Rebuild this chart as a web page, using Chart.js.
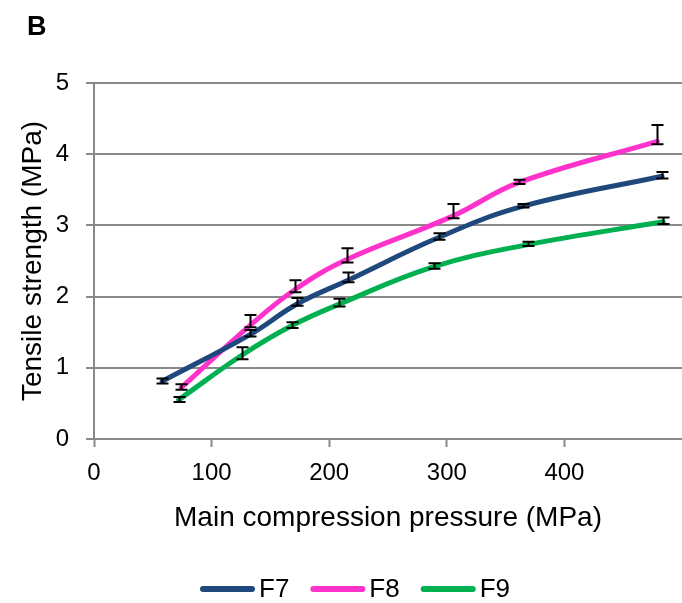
<!DOCTYPE html>
<html>
<head>
<meta charset="utf-8">
<script src="https://cdn.jsdelivr.net/npm/chart.js@4.4.1/dist/chart.umd.min.js"></script>
<style>
  html, body { margin: 0; padding: 0; background: #ffffff; }
  #wrap { width: 682px; height: 603px; }
</style>
</head>
<body>
<div id="wrap"><canvas id="chart" width="682" height="603"></canvas></div>
<script>
// Series names and colours
const seriesNames = ['F7', 'F8', 'F9'];
const seriesColors = ['#1F497D', '#FF33CC', '#00B050'];

// Main compression pressure (MPa) for each formulation
const f7Pressure = [58, 133, 173, 216, 293, 365, 483];
const f8Pressure = [74, 133, 171, 215, 305, 361, 479];
const f9Pressure = [72, 126, 168, 208, 289, 369, 484];

// Tensile strength (MPa), mean values
const f7Strength = [0.81, 1.47, 1.90, 2.23, 2.83, 3.27, 3.69];
const f8Strength = [0.72, 1.60, 2.10, 2.52, 3.13, 3.60, 4.18];
const f9Strength = [0.55, 1.18, 1.59, 1.89, 2.42, 2.73, 3.05];

// Error bar lengths above (plus) and below (minus) the mean
const f7ErrorPlus  = [0.04, 0.06, 0.08, 0.11, 0.06, 0.03, 0.06];
const f7ErrorMinus = [0.03, 0.03, 0.03, 0.03, 0.03, 0.02, 0.03];
const f8ErrorPlus  = [0.05, 0.14, 0.13, 0.16, 0.17, 0.04, 0.23];
const f8ErrorMinus = [0.03, 0.03, 0.04, 0.04, 0.03, 0.02, 0.04];
const f9ErrorPlus  = [0.04, 0.11, 0.05, 0.08, 0.05, 0.04, 0.06];
const f9ErrorMinus = [0.03, 0.06, 0.03, 0.03, 0.03, 0.02, 0.03];

// Axis ticks
const xTickValues = [0, 100, 200, 300, 400];
const yTickValues = [0, 1, 2, 3, 4, 5];

const pressures = [f7Pressure, f8Pressure, f9Pressure];
const strengths = [f7Strength, f8Strength, f9Strength];
const errorsPlus = [f7ErrorPlus, f8ErrorPlus, f9ErrorPlus];
const errorsMinus = [f7ErrorMinus, f8ErrorMinus, f9ErrorMinus];

const FONT = "'Liberation Sans', Arial, sans-serif";
const AXIS_GREY = '#898989';

const datasets = seriesNames.map((name, s) => ({
  label: name,
  data: pressures[s].map((x, i) => ({ x: x, y: strengths[s][i] })),
  errorPlus: errorsPlus[s],
  errorMinus: errorsMinus[s],
  borderColor: seriesColors[s],
  backgroundColor: seriesColors[s],
  borderWidth: 5,
  borderCapStyle: 'round',
  borderJoinStyle: 'round',
  tension: 0.4,
  pointRadius: 0,
  fill: false
}));

// Vertical error bars with caps, drawn over the lines
const errorBarPlugin = {
  id: 'errorBars',
  afterDatasetsDraw(chart) {
    const ctx = chart.ctx;
    const xs = chart.scales.x, ys = chart.scales.y;
    const cap = 6;
    ctx.save();
    ctx.strokeStyle = '#000000';
    ctx.lineWidth = 2;
    chart.data.datasets.forEach(ds => {
      ds.data.forEach((p, i) => {
        const px = Math.round(xs.getPixelForValue(p.x)) + 0.5;
        const top = ys.getPixelForValue(p.y + ds.errorPlus[i]);
        const bot = ys.getPixelForValue(p.y - ds.errorMinus[i]);
        ctx.beginPath();
        ctx.moveTo(px, top); ctx.lineTo(px, bot);
        ctx.moveTo(px - cap, top); ctx.lineTo(px + cap, top);
        ctx.moveTo(px - cap, bot); ctx.lineTo(px + cap, bot);
        ctx.stroke();
      });
    });
    ctx.restore();
  }
};

// Panel letter in the top-left corner
const panelLetterPlugin = {
  id: 'panelLetter',
  afterDraw(chart) {
    const ctx = chart.ctx;
    ctx.save();
    ctx.fillStyle = '#000000';
    ctx.font = 'bold 27px ' + FONT;
    ctx.textAlign = 'left';
    ctx.textBaseline = 'alphabetic';
    ctx.fillText('B', 27, 35);
    ctx.restore();
  }
};

// Series key below the axis title: line sample followed by the name
const seriesKeyPlugin = {
  id: 'seriesKey',
  afterDraw(chart) {
    const ctx = chart.ctx;
    const lineLen = 55, gap = 4, spacing = 21, y = 589;
    ctx.save();
    ctx.font = '26px ' + FONT;
    ctx.textBaseline = 'middle';
    ctx.textAlign = 'left';
    let x = 200;
    chart.data.datasets.forEach(ds => {
      ctx.strokeStyle = ds.borderColor;
      ctx.lineWidth = 6;
      ctx.lineCap = 'round';
      ctx.beginPath();
      ctx.moveTo(x + 3, y); ctx.lineTo(x + lineLen - 3, y);
      ctx.stroke();
      x += lineLen + gap;
      ctx.fillStyle = '#000000';
      ctx.fillText(ds.label, x, y + 1);
      x += ctx.measureText(ds.label).width + spacing;
    });
    ctx.restore();
  }
};

new Chart(document.getElementById('chart'), {
  type: 'line',
  data: { datasets: datasets },
  plugins: [errorBarPlugin, panelLetterPlugin, seriesKeyPlugin],
  options: {
    responsive: false,
    animation: false,
    layout: { padding: { top: 83, right: 0, bottom: 64, left: 0 } },
    plugins: {
      legend: { display: false },
      tooltip: { enabled: false }
    },
    scales: {
      x: {
        type: 'linear',
        min: 0,
        max: 500,
        afterFit(scale) { scale.height = 100; },
        afterBuildTicks(scale) {
          scale.ticks = xTickValues.concat([500]).map(v => ({ value: v }));
        },
        ticks: {
          color: '#000000',
          font: { family: FONT, size: 24 },
          padding: 12,
          maxRotation: 0,
          callback: v => (xTickValues.includes(v) ? String(v) : null)
        },
        grid: {
          drawOnChartArea: false,
          drawTicks: true,
          tickLength: 8,
          tickWidth: 2,
          tickColor: AXIS_GREY,
          color: AXIS_GREY
        },
        border: { display: true, color: AXIS_GREY, width: 2 },
        title: {
          display: true,
          text: 'Main compression pressure (MPa)',
          color: '#000000',
          font: { family: FONT, size: 28 },
          padding: { top: 0, bottom: 4 }
        }
      },
      y: {
        type: 'linear',
        min: 0,
        max: 5,
        afterFit(scale) { scale.width = 94; },
        afterBuildTicks(scale) {
          scale.ticks = yTickValues.map(v => ({ value: v }));
        },
        ticks: {
          color: '#000000',
          font: { family: FONT, size: 24 },
          padding: 17,
          callback: v => String(v)
        },
        grid: {
          drawOnChartArea: true,
          drawTicks: true,
          tickLength: 8,
          lineWidth: 2,
          color: AXIS_GREY
        },
        border: { display: true, color: AXIS_GREY, width: 2 },
        title: {
          display: true,
          text: 'Tensile strength (MPa)',
          color: '#000000',
          font: { family: FONT, size: 28 },
          padding: { top: 16, bottom: 0 }
        }
      }
    }
  }
});
</script>
</body>
</html>
